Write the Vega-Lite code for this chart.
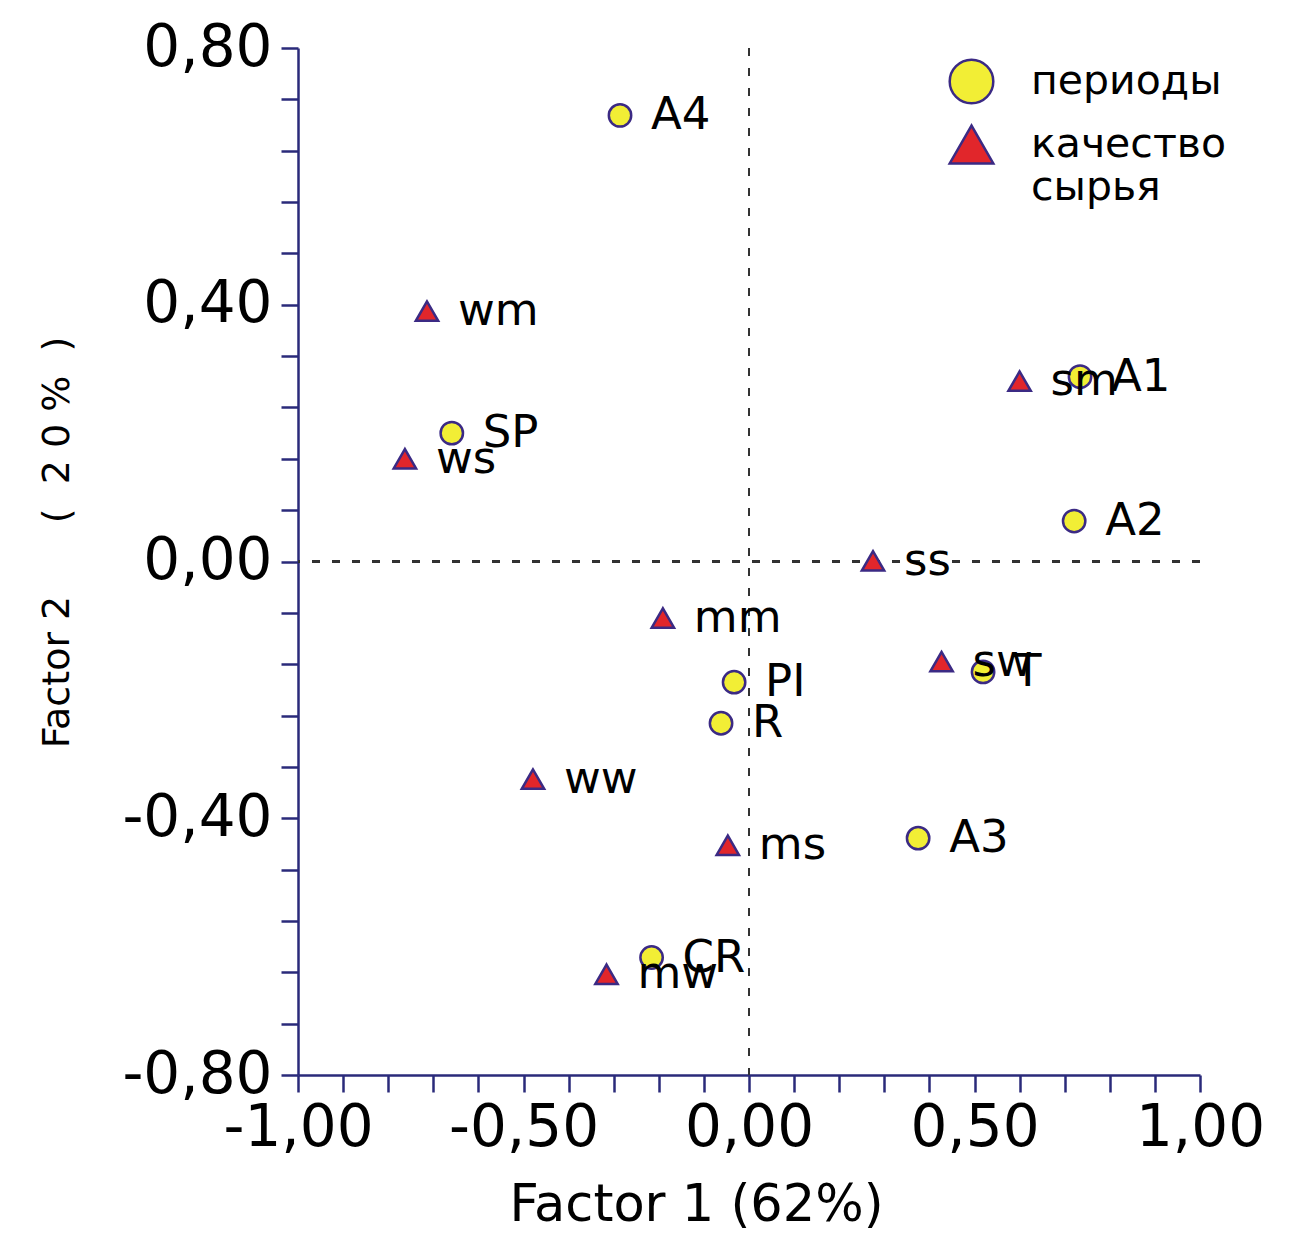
{
  "$schema": "https://vega.github.io/schema/vega-lite/v6.json",
  "width": 902,
  "height": 1027,
  "autosize": {"type": "none"},
  "padding": {"left": 298, "top": 48, "right": 94, "bottom": 173},
  "background": "white",
  "config": {
    "view": {"stroke": null},
    "font": "DejaVu Sans"
  },
  "data": {
    "values": [
      {"label": "A4", "group": "периоды", "f1": -0.286, "f2": 0.695},
      {"label": "wm", "group": "качество сырья", "f1": -0.714, "f2": 0.390},
      {"label": "SP", "group": "периоды", "f1": -0.659, "f2": 0.200},
      {"label": "ws", "group": "качество сырья", "f1": -0.763, "f2": 0.160},
      {"label": "A1", "group": "периоды", "f1": 0.734, "f2": 0.288},
      {"label": "sm", "group": "качество сырья", "f1": 0.600, "f2": 0.281},
      {"label": "A2", "group": "периоды", "f1": 0.721, "f2": 0.063},
      {"label": "ss", "group": "качество сырья", "f1": 0.275, "f2": 0.001},
      {"label": "mm", "group": "качество сырья", "f1": -0.191, "f2": -0.088},
      {"label": "sw", "group": "качество сырья", "f1": 0.427, "f2": -0.156},
      {"label": "T", "group": "периоды", "f1": 0.519, "f2": -0.172},
      {"label": "PI", "group": "периоды", "f1": -0.033, "f2": -0.188},
      {"label": "R", "group": "периоды", "f1": -0.062, "f2": -0.252},
      {"label": "ww", "group": "качество сырья", "f1": -0.479, "f2": -0.339},
      {"label": "A3", "group": "периоды", "f1": 0.375, "f2": -0.431},
      {"label": "ms", "group": "качество сырья", "f1": -0.047, "f2": -0.442},
      {"label": "CR", "group": "периоды", "f1": -0.216, "f2": -0.617},
      {"label": "mw", "group": "качество сырья", "f1": -0.316, "f2": -0.643}
    ]
  },
  "encoding": {
    "x": {
      "field": "f1",
      "type": "quantitative",
      "scale": {"domain": [-1, 1], "nice": false, "zero": false},
      "axis": {
        "values": [-1, -0.9, -0.8, -0.7, -0.6, -0.5, -0.4, -0.3, -0.2, -0.1, 0, 0.1, 0.2, 0.3, 0.4, 0.5, 0.6, 0.7, 0.8, 0.9, 1],
        "labelExpr": "round(datum.value*100) % 50 == 0 ? (datum.value < 0 ? '-' : '') + replace(format(abs(datum.value), '.2f'), '.', ',') : ''",
        "grid": false,
        "tickSize": 17,
        "tickWidth": 2.5,
        "tickColor": "#2a2a7a",
        "domainColor": "#2a2a7a",
        "domainWidth": 2.5,
        "labelFont": "DejaVu Sans",
        "labelFontSize": 58,
        "labelColor": "black",
        "labelPadding": 7,
        "labelFlush": false,
        "labelOverlap": false,
        "title": "Factor 1 (62%)",
        "titleFont": "DejaVu Sans",
        "titleFontSize": 51,
        "titleFontWeight": "normal",
        "titleColor": "black",
        "titleX": 398,
        "titleY": 145,
        "titleBaseline": "alphabetic"
      }
    },
    "y": {
      "field": "f2",
      "type": "quantitative",
      "scale": {"domain": [-0.8, 0.8], "nice": false, "zero": false},
      "axis": {
        "values": [-0.8, -0.72, -0.64, -0.56, -0.48, -0.4, -0.32, -0.24, -0.16, -0.08, 0, 0.08, 0.16, 0.24, 0.32, 0.4, 0.48, 0.56, 0.64, 0.72, 0.8],
        "labelExpr": "round(datum.value*100) % 40 == 0 ? (datum.value < 0 ? '-' : '') + replace(format(abs(datum.value), '.2f'), '.', ',') : ''",
        "grid": false,
        "tickSize": 17,
        "tickWidth": 2.5,
        "tickColor": "#2a2a7a",
        "domainColor": "#2a2a7a",
        "domainWidth": 2.5,
        "labelFont": "DejaVu Sans",
        "labelFontSize": 58,
        "labelColor": "black",
        "labelPadding": 9,
        "labelFlush": false,
        "labelOverlap": false,
        "title": "Factor 2\u00a0\u00a0\u00a0\u00a0\u00a0\u00a0(\u00a0\u00a02\u00a00\u00a0%\u00a0\u00a0)",
        "titleFont": "DejaVu Sans",
        "titleFontSize": 38,
        "titleFontWeight": "normal",
        "titleColor": "black",
        "titleAngle": 270,
        "titleX": -230,
        "titleY": 494,
        "titleAlign": "center",
        "titleBaseline": "alphabetic"
      }
    }
  },
  "layer": [
    {
      "mark": {"type": "rule", "color": "#333333", "strokeWidth": 1.6, "strokeDash": [8, 12]},
      "encoding": {"x": {"datum": 0}, "y": null}
    },
    {
      "mark": {"type": "rule", "color": "#333333", "strokeWidth": 1.6, "strokeDash": [8, 12]},
      "encoding": {"y": {"datum": 0}, "x": null}
    },
    {
      "mark": {"type": "point", "filled": true, "opacity": 1, "size": 500, "strokeWidth": 2.5},
      "encoding": {
        "fill": {
          "field": "group",
          "type": "nominal",
          "scale": {"domain": ["периоды", "качество сырья"], "range": ["#f2ee35", "#e1262b"]},
          "legend": {
            "orient": "none", "legendX": 650, "legendY": 10, "title": null, "padding": 0,
            "symbolSize": 1900, "symbolStrokeWidth": 2.5,
            "labelFont": "DejaVu Sans", "labelFontSize": 41, "labelColor": "black",
            "labelOffset": 36, "labelLimit": 600, "rowPadding": 11,
            "labelExpr": "datum.label == 'качество сырья' ? ['качество', 'сырья'] : datum.label"
          }
        },
        "stroke": {
          "field": "group",
          "type": "nominal",
          "scale": {"domain": ["периоды", "качество сырья"], "range": ["#3b2a84", "#3b2a84"]},
          "legend": {
            "orient": "none", "legendX": 650, "legendY": 10, "title": null, "padding": 0,
            "symbolSize": 1900, "symbolStrokeWidth": 2.5,
            "labelFont": "DejaVu Sans", "labelFontSize": 41, "labelColor": "black",
            "labelOffset": 36, "labelLimit": 600, "rowPadding": 11,
            "labelExpr": "datum.label == 'качество сырья' ? ['качество', 'сырья'] : datum.label"
          }
        },
        "shape": {
          "field": "group",
          "type": "nominal",
          "scale": {"domain": ["периоды", "качество сырья"], "range": ["circle", "triangle-up"]},
          "legend": {
            "orient": "none", "legendX": 650, "legendY": 10, "title": null, "padding": 0,
            "symbolSize": 1900, "symbolStrokeWidth": 2.5,
            "labelFont": "DejaVu Sans", "labelFontSize": 41, "labelColor": "black",
            "labelOffset": 36, "labelLimit": 600, "rowPadding": 11,
            "labelExpr": "datum.label == 'качество сырья' ? ['качество', 'сырья'] : datum.label"
          }
        }
      }
    },
    {
      "mark": {"type": "text", "align": "left", "baseline": "middle", "dx": 31, "font": "DejaVu Sans", "fontSize": 45, "color": "black"},
      "encoding": {"text": {"field": "label"}}
    }
  ]
}
